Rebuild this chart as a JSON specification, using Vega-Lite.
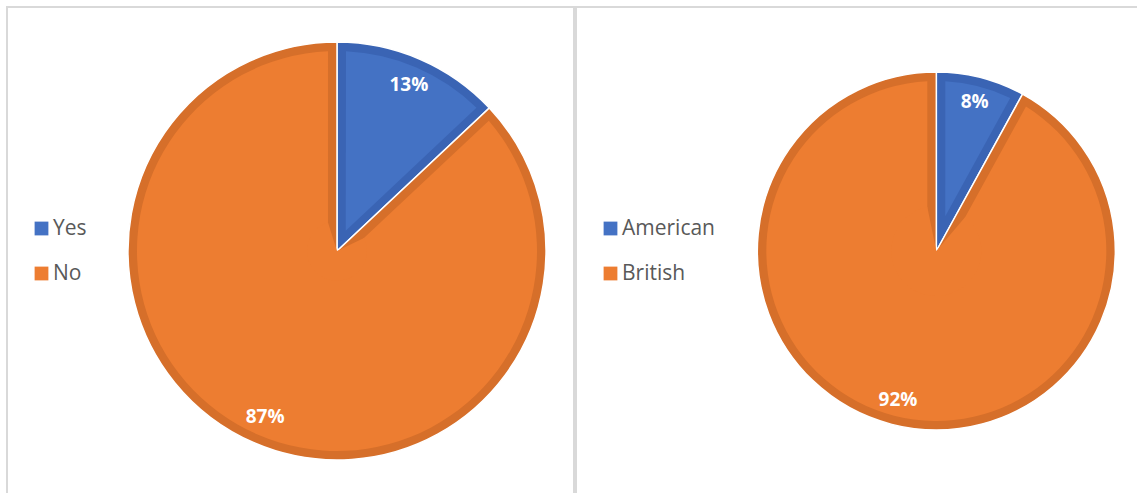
{
  "$schema": "https://vega.github.io/schema/vega-lite/v6.json",
  "background": "white",
  "padding": {"left": 6, "top": 6, "right": 0, "bottom": 0},
  "spacing": 0,
  "config": {
    "view": {"stroke": "#d9d9d9", "strokeWidth": 2},
    "legend": {"title": null, "symbolType": "square", "symbolSize": 190, "symbolStrokeWidth": 0, "labelFont": "Open Sans", "labelFontSize": 21, "labelColor": "#595959", "rowPadding": 23, "labelOffset": 1, "padding": 0}
  },
  "resolve": {"scale": {"color": "independent", "theta": "independent", "x": "independent"}, "legend": {"color": "independent"}},
  "hconcat": [
    {
      "width": 567,
      "height": 488,
      "view": {"stroke": "#d9d9d9", "strokeWidth": 2},
      "data": {"values": [{"answer": "Yes", "value": 0.13}, {"answer": "No", "value": 0.87}]},
      "transform": [
        {"stack": "value", "groupby": [], "sort": [{"field": "value", "order": "ascending"}], "as": ["v0", "v1"]},
        {"calculate": "(datum.v0 + datum.v1) / 2", "as": "mid"}
      ],
      "encoding": {
        "x": {"datum": 0.582, "type": "quantitative", "scale": {"domain": [0, 1]}, "axis": null}
      },
      "layer": [
        {
          "mark": {"type": "arc", "outerRadius": 209, "stroke": "#ffffff", "strokeWidth": 1.5},
          "encoding": {
            "theta": {"field": "v0", "type": "quantitative", "scale": {"domain": [0, 1]}},
            "theta2": {"field": "v1"},
            "fill": {"condition": {"test": "datum.answer == 'Yes'", "value": "#3a64b4"}, "value": "#d66f2a"}
          }
        },
        {
          "mark": {"type": "arc", "innerRadius": 22, "outerRadius": 200, "padAngle": 0.0895},
          "encoding": {
            "theta": {"field": "v0", "type": "quantitative", "scale": {"domain": [0, 1]}},
            "theta2": {"field": "v1"},
            "color": {"field": "answer", "type": "nominal", "scale": {"domain": ["Yes", "No"], "range": ["#4472c4", "#ed7d31"]}, "legend": {"orient": "none", "legendX": 24, "legendY": 211}}
          }
        },
        {
          "transform": [{"filter": "datum.answer == 'No'"}],
          "mark": {"type": "arc", "outerRadius": 30, "padAngle": 0.609},
          "encoding": {
            "theta": {"field": "v0", "type": "quantitative", "scale": {"domain": [0, 1]}},
            "theta2": {"field": "v1"},
            "color": {"field": "answer", "type": "nominal"}
          }
        },
        {
          "mark": {"type": "text", "radius": 181, "font": "Open Sans", "fontWeight": "bold", "fontSize": 19, "fill": "#ffffff", "align": "center", "baseline": "middle"},
          "encoding": {
            "theta": {"field": "mid", "type": "quantitative", "scale": {"domain": [0, 1]}},
            "text": {"field": "value", "type": "quantitative", "format": ".0%"}
          }
        }
      ]
    },
    {
      "width": 563,
      "height": 488,
      "view": {"stroke": "#d9d9d9", "strokeWidth": 2},
      "data": {"values": [{"origin": "American", "value": 0.08}, {"origin": "British", "value": 0.92}]},
      "transform": [
        {"stack": "value", "groupby": [], "sort": [{"field": "value", "order": "ascending"}], "as": ["v0", "v1"]},
        {"calculate": "(datum.v0 + datum.v1) / 2", "as": "mid"}
      ],
      "encoding": {
        "x": {"datum": 0.64, "type": "quantitative", "scale": {"domain": [0, 1]}, "axis": null}
      },
      "layer": [
        {
          "mark": {"type": "arc", "outerRadius": 179, "stroke": "#ffffff", "strokeWidth": 1.5},
          "encoding": {
            "theta": {"field": "v0", "type": "quantitative", "scale": {"domain": [0, 1]}},
            "theta2": {"field": "v1"},
            "fill": {"condition": {"test": "datum.origin == 'American'", "value": "#3a64b4"}, "value": "#d66f2a"}
          }
        },
        {
          "mark": {"type": "arc", "innerRadius": 36, "outerRadius": 170, "padAngle": 0.1036},
          "encoding": {
            "theta": {"field": "v0", "type": "quantitative", "scale": {"domain": [0, 1]}},
            "theta2": {"field": "v1"},
            "color": {"field": "origin", "type": "nominal", "scale": {"domain": ["American", "British"], "range": ["#4472c4", "#ed7d31"]}, "legend": {"orient": "none", "legendX": 24, "legendY": 211}}
          }
        },
        {
          "transform": [{"filter": "datum.origin == 'British'"}],
          "mark": {"type": "arc", "outerRadius": 45, "padAngle": 0.403},
          "encoding": {
            "theta": {"field": "v0", "type": "quantitative", "scale": {"domain": [0, 1]}},
            "theta2": {"field": "v1"},
            "color": {"field": "origin", "type": "nominal"}
          }
        },
        {
          "mark": {"type": "text", "radius": 154, "font": "Open Sans", "fontWeight": "bold", "fontSize": 19, "fill": "#ffffff", "align": "center", "baseline": "middle"},
          "encoding": {
            "theta": {"field": "mid", "type": "quantitative", "scale": {"domain": [0, 1]}},
            "text": {"field": "value", "type": "quantitative", "format": ".0%"}
          }
        }
      ]
    }
  ]
}
